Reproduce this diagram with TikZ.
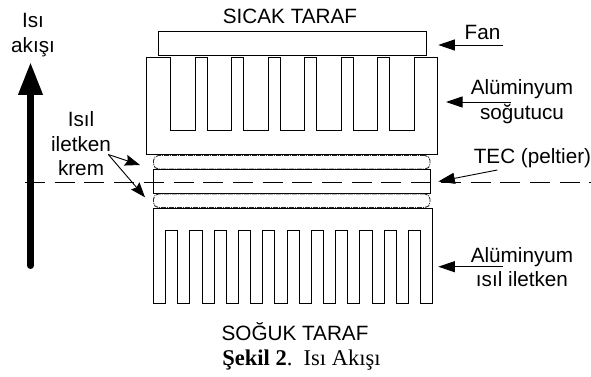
\documentclass[tikz,border=0pt]{standalone}
\usepackage{fontspec}
\setmainfont{Liberation Sans}
\newfontfamily\capfont{Liberation Serif}
\usetikzlibrary{arrows.meta,positioning}

\begin{document}
\begin{tikzpicture}[
  x=1pt, y=-1pt,
  line width=0.9pt,
  node distance=0.5pt,
  lbl/.style={align=center, inner sep=0pt, font=\fontsize{20.7}{24.5}\selectfont},
  plate/.style={draw, rectangle, inner sep=0pt, outer sep=0pt},
  paste/.style={plate, minimum width=276.5pt, minimum height=13.5pt, rounded corners=5pt,
    dash pattern=on 5pt off 1pt on 1pt off 1pt, draw=black!85},
  arr/.style={-{Triangle[length=16.5pt,width=11pt]}},
  thin arr/.style={-{Stealth[length=15pt,width=11pt,inset=2pt]}},
  flow/.style={-{Triangle[length=33pt,width=23pt]}, line width=7pt, line cap=round}
]
  \useasboundingbox (0,0) rectangle (591,377);

  \node[plate, minimum width=267.5pt, minimum height=24pt] (fan) at (292.2,43) {};
  \node[paste] (pasteup) at (291.75,162.25) {};
  \node[plate, minimum width=276.5pt, minimum height=24pt, below=of pasteup] (tec) {};
  \node[paste, below=of tec] (pastelow) {};

  \draw (146.5,57.5) -- (170.5,57.5)
    foreach \i in {1,...,6} { -- ++(0,72.5) -- ++(24.5,0) -- ++(0,-72.5) -- ++(12,0) }
    -- ++(0,72.5) -- ++(24.5,0) -- ++(0,-72.5) -- (437.7,57.5) -- (437.7,154.5) -- (146.5,154.5) -- cycle;
  \draw (153.5,208.5) -- (153.5,303.3) -- ++(12.14,0)
    foreach \i in {1,...,11} { -- ++(0,-73) -- ++(12.14,0) -- ++(0,73) -- ++(12.14,0) }
    -- ++(0,-94.8) -- cycle;

  \node[lbl] (hot) at (290,16) {SICAK TARAF};
  \node[lbl] (cold) at (295,332) {SOĞUK TARAF};
  \node[lbl] (flowlbl) at (33,35) {Isı\\akışı};
  \node[lbl] (cream) at (81,144) {Isıl\\iletken\\krem};
  \node[lbl] (fanlbl) at (482.5,32) {Fan};
  \node[lbl] (alup) at (522,101.5) {Alüminyum\\soğutucu};
  \node[lbl] (teclbl) at (532.5,158) {TEC (peltier)};
  \node[lbl] (aldown) at (522,267) {Alüminyum\\ısıl iletken};
  \node[inner sep=0pt, font=\capfont\fontsize{22.5}{26}\selectfont] (cap) at (301.5,360)
    {\textbf{Şekil 2}.\ \ Isı Akışı};

  \coordinate (axisl) at (25,182);
  \coordinate (axisr) at (591,182);
  \coordinate (flowtail) at (30.5,265.5);
  \coordinate (flowtip) at (30.5,62);
  \coordinate (creamfrom) at (108.3,154.5);
  \coordinate (pasteuptip) at (140,165);
  \coordinate (pastelowtip) at (145,197.3);
  \coordinate (fantail) at (503.3,45);
  \coordinate (fantip) at (438.3,45);
  \coordinate (aluptail) at (510.7,102);
  \coordinate (aluptip) at (446,102);
  \coordinate (tectail) at (497.3,170);
  \coordinate (tectip) at (438.3,181.5);
  \coordinate (aldowntail) at (503.3,266.7);
  \coordinate (aldowntip) at (438.3,266.7);

  \draw[dash pattern=on 20pt off 9.7pt, line width=0.8pt] (axisl) -- (axisr);
  \draw[flow] (flowtail) -- (flowtip);
  \draw[thin arr] (creamfrom) -- (pasteuptip);
  \draw[thin arr] (creamfrom) -- (pastelowtip);
  \draw[arr] (fantail) -- (fantip);
  \draw[arr] (aluptail) -- (aluptip);
  \draw[arr] (tectail) -- (tectip);
  \draw[arr] (aldowntail) -- (aldowntip);
\end{tikzpicture}
\end{document}
